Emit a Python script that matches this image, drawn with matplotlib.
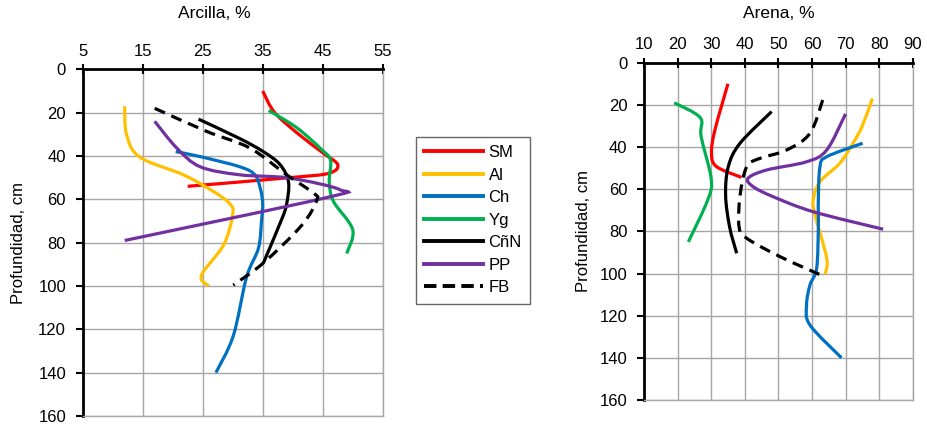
import matplotlib
matplotlib.use("Agg")
import matplotlib.pyplot as plt
import numpy as np
from matplotlib.path import Path
from matplotlib.patches import PathPatch
from matplotlib.lines import Line2D

# profile names and styles
names = ["SM", "Al", "Ch", "Yg", "CñN", "PP", "FB"]
colors = ["#FF0000", "#FFC000", "#0070C0", "#00B050", "#000000", "#7030A0", "#000000"]
styles = ["-", "-", "-", "-", "-", "-", "--"]

# Arcilla (clay, %) vs depth (cm)
clay_SM = [35, 37, 41, 45, 47.5, 46, 39.5, 22.5]
clay_SM_d = [10, 20, 30, 38.5, 44, 48, 50, 54]
clay_Al = [12, 12.3, 14.5, 21.8, 26.8, 29.5, 30, 28.5, 24.8, 26]
clay_Al_d = [17, 30, 40.5, 48.7, 56.4, 62, 67, 81, 95, 100]
clay_Ch = [20.5, 24.6, 31.2, 33.7, 34.6, 35, 34.8, 34.3, 32.3, 30.1, 27.2]
clay_Ch_d = [38, 40.3, 45, 48.7, 55, 62, 70, 82.5, 96, 123, 140]
clay_Yg = [36, 40.7, 44.8, 46.3, 46.1, 46.8, 50, 49]
clay_Yg_d = [19, 27, 37, 42, 52, 61, 74, 85]
clay_CN = [24.3, 31.2, 35.1, 37.9, 39.3, 39, 38.2, 35.1]
clay_CN_d = [23, 32, 38, 44, 52, 62, 69, 89.5]
clay_PP = [17, 20.7, 24.6, 31.2, 39.5, 47.9, 45.5, 12]
clay_PP_d = [24, 36.4, 45, 48.7, 50.2, 55.6, 59.3, 79]
clay_FB = [17, 25.7, 32.9, 39, 43.4, 44, 41.5, 35.1, 30.1]
clay_FB_d = [18, 28.7, 36.4, 48.7, 57, 60.5, 72, 89.4, 99.6]

# Arena (sand, %) vs depth (cm)
sand_SM = [35, 31.1, 30.1, 31.6, 39]
sand_SM_d = [10, 32, 43, 49.3, 54.4]
sand_Al = [78, 75, 72.3, 68.3, 62.4, 60.4, 60.9, 64.4, 63.9]
sand_Al_d = [17, 30, 38, 47.7, 56.4, 65, 72, 92.8, 100.4]
sand_Ch = [75.1, 64.4, 62.4, 61.9, 61.9, 61.4, 59.4, 58.4, 59.4, 68.8]
sand_Ch_d = [38.2, 44.6, 49.3, 65, 78.6, 97.5, 105.5, 115, 124.4, 140]
sand_Yg = [19, 26.7, 27, 30, 29, 23.2]
sand_Yg_d = [19, 26, 35, 55, 65, 85]
sand_CN = [48, 38.6, 35.1, 34.3, 35.5, 37.6]
sand_CN_d = [23.2, 38.2, 49.3, 63, 78, 90.4]
sand_PP = [70, 64.4, 58.4, 46.5, 41, 42.5, 48.5, 60.4, 81.2]
sand_PP_d = [24.3, 41.4, 47, 50.9, 54.8, 58.8, 63.6, 70.7, 79]
sand_FB = [63.2, 59.4, 52.5, 44.5, 40.6, 38.6, 38.3, 40.6, 50.5, 62.2]
sand_FB_d = [17.7, 33.5, 41.4, 45.4, 49.3, 63, 77.8, 83.3, 92, 100.4]

clay = [(clay_SM, clay_SM_d), (clay_Al, clay_Al_d), (clay_Ch, clay_Ch_d), (clay_Yg, clay_Yg_d),
        (clay_CN, clay_CN_d), (clay_PP, clay_PP_d), (clay_FB, clay_FB_d)]
sand = [(sand_SM, sand_SM_d), (sand_Al, sand_Al_d), (sand_Ch, sand_Ch_d), (sand_Yg, sand_Yg_d),
        (sand_CN, sand_CN_d), (sand_PP, sand_PP_d), (sand_FB, sand_FB_d)]

narrow = ["Liberation Sans Narrow", "Liberation Sans", "DejaVu Sans"]
regular = ["Liberation Sans", "DejaVu Sans"]


def smooth_path(x, y):
    # Excel-like smoothed line (Catmull-Rom as cubic Bezier)
    p = np.column_stack([x, y]).astype(float)
    n = len(p)
    verts = [p[0]]
    codes = [Path.MOVETO]
    for i in range(n - 1):
        p0 = p[i - 1] if i > 0 else p[i]
        p3 = p[i + 2] if i + 2 < n else p[i + 1]
        verts += [p[i] + (p[i + 1] - p0) / 6, p[i + 1] - (p3 - p[i]) / 6, p[i + 1]]
        codes += [Path.CURVE4] * 3
    return Path(verts, codes)


def setup(ax, xmin, xmax, step, title, title_x, title_gap):
    ax.set_xlim(xmin, xmax)
    ax.set_ylim(160, 0)
    ax.set_xticks(np.arange(xmin, xmax + 1, step))
    ax.set_yticks(np.arange(0, 161, 20))
    ax.xaxis.tick_top()
    ax.grid(True, color="#a6a6a6", linewidth=1.0)
    ax.set_axisbelow(True)
    for s in ["right", "bottom"]:
        ax.spines[s].set_color("#a6a6a6")
        ax.spines[s].set_linewidth(1.0)
    for s in ["left", "top"]:
        ax.spines[s].set_color("black")
        ax.spines[s].set_linewidth(2.0)
    ax.tick_params(axis="x", which="major", direction="inout", length=7, width=1.5,
                   pad=4, labelsize=12)
    ax.tick_params(axis="y", which="major", direction="out", length=5, width=1.5,
                   pad=7, labelsize=12)
    for lab in ax.get_xticklabels() + ax.get_yticklabels():
        lab.set_fontfamily(narrow)
    ax.text(title_x, 1 + title_gap, title, transform=ax.transAxes, ha="center", va="bottom",
            fontsize=12.5, family=narrow)


fig = plt.figure(figsize=(9.27, 4.25), dpi=100)
ax1 = fig.add_axes([82.7 / 927, 9 / 425, 300 / 927, 346.7 / 425])
ax2 = fig.add_axes([644 / 927, 25 / 425, 268.7 / 927, 337.3 / 425])

for ax, data in [(ax1, clay), (ax2, sand)]:
    for (v, d), c, ls in zip(data, colors, styles):
        dash = (0, (3.5, 2.2)) if ls == "--" else "-"
        ax.add_patch(PathPatch(smooth_path(v, d), fill=False, edgecolor=c,
                               linewidth=2.3, linestyle=dash, capstyle="butt"))

setup(ax1, 5, 55, 10, "Arcilla, %", 0.44, 48 / 346.7)
setup(ax2, 10, 90, 10, "Arena, %", 0.5, 41.5 / 337.3)

fig.text(19 / 927, 1 - 243 / 425, "Profundidad, cm", rotation=90, ha="center", va="center",
         fontsize=12, family=regular)
fig.text(583 / 927, 1 - 231 / 425, "Profundidad, cm", rotation=90, ha="center", va="center",
         fontsize=12, family=regular)

handles = [Line2D([], [], color=c, linestyle="-", linewidth=2.8) for c in colors]
handles[-1] = Line2D([], [], color="black", linestyle="--", linewidth=2.8, dashes=(3.2, 1.6))
leg = fig.legend(handles, names, loc="upper left", bbox_to_anchor=(416 / 927, 1 - 137 / 425),
                 borderaxespad=0, frameon=True, fancybox=False, edgecolor="#404040",
                 handlelength=3.5, handletextpad=0.35, labelspacing=0.45,
                 borderpad=0.5, prop={"family": narrow, "size": 12})
leg.get_frame().set_linewidth(1.0)

fig.savefig("out.png", dpi=100)
